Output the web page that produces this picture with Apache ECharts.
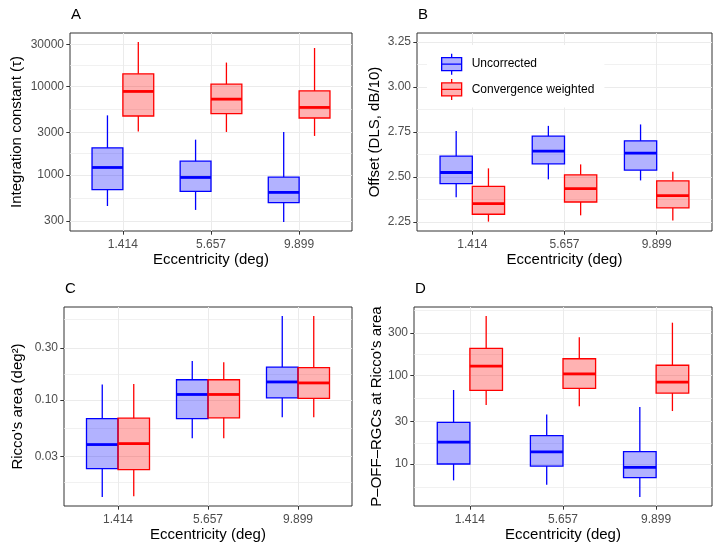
<!DOCTYPE html>
<html>
<head>
<meta charset="utf-8">
<script src="https://cdn.jsdelivr.net/npm/echarts@6/dist/echarts.min.js"></script>
<style>
html,body{margin:0;padding:0;background:#fff;}
#chart{width:720px;height:550px;}
</style>
</head>
<body>
<div id="chart"></div>
<script>
// ---------- data ----------
const categories = ['1.414', '5.657', '9.899'];
const seriesNames = ['Uncorrected', 'Convergence weighted'];

// each box: [lower whisker, Q1, median, Q3, upper whisker], one per category
const integUncorrected = [[443, 678, 1210, 2018, 4710], [400, 649, 933, 1426, 2500], [292, 483, 632, 941, 3055]];
const integWeighted = [[3100, 4630, 8790, 13900, 31900], [3055, 4920, 7190, 10620, 18660], [2754, 4396, 5790, 8930, 27300]];
const integTicks = ['300', '1000', '3000', '10000', '30000'];

const offsetUncorrected = [[2.387, 2.463, 2.525, 2.616, 2.755], [2.487, 2.573, 2.644, 2.727, 2.784], [2.481, 2.538, 2.633, 2.701, 2.792]];
const offsetWeighted = [[2.252, 2.293, 2.352, 2.448, 2.548], [2.287, 2.361, 2.435, 2.512, 2.570], [2.259, 2.328, 2.396, 2.479, 2.529]];
const offsetTicks = ['2.25', '2.50', '2.75', '3.00', '3.25'];
const offsetLimits = [2.25, 3.25];

const riccoUncorrected = [[0.0128, 0.0233, 0.0388, 0.0673, 0.138], [0.0444, 0.0673, 0.112, 0.153, 0.227], [0.0692, 0.104, 0.146, 0.200, 0.589]];
const riccoWeighted = [[0.0130, 0.0228, 0.0396, 0.0678, 0.140], [0.0444, 0.0683, 0.112, 0.153, 0.221], [0.0692, 0.103, 0.143, 0.198, 0.589]];
const riccoTicks = ['0.03', '0.10', '0.30'];

const rgcUncorrected = [[6.54, 10.0, 17.7, 29.5, 68.4], [5.85, 9.49, 13.7, 20.9, 36.3], [4.25, 7.01, 9.17, 13.8, 44.0]];
const rgcWeighted = [[46.3, 67.7, 127, 202, 467], [44.7, 71.3, 104, 154, 270], [39.6, 63.2, 84.1, 130, 393]];
const rgcTicks = ['10', '30', '100', '300'];

// ---------- layout / style ----------
const BLUE = '#0000FF', BLUE_FILL = 'rgba(0,0,255,0.3)';
const RED = '#FF0000', RED_FILL = 'rgba(255,0,0,0.3)';
const BOX_W = 0.35, DODGE = 0.175;
const FONT = "'Liberation Sans', Arial, Helvetica, sans-serif";

const panels = [
  { tag: 'A', log: true, unc: integUncorrected, wtd: integWeighted, ticks: integTicks,
    yName: 'Integration constant (τ)', grid: { left: 70, top: 33, width: 282, height: 198 }, nameGap: 46 },
  { tag: 'B', log: false, unc: offsetUncorrected, wtd: offsetWeighted, ticks: offsetTicks, limits: offsetLimits,
    yName: 'Offset (DLS, dB/10)', grid: { left: 417, top: 33, width: 295, height: 198 }, nameGap: 35 },
  { tag: 'C', log: true, unc: riccoUncorrected, wtd: riccoWeighted, ticks: riccoTicks,
    yName: "Ricco's area (deg²)", grid: { left: 64, top: 307, width: 288, height: 199 }, nameGap: 39 },
  { tag: 'D', log: true, unc: rgcUncorrected, wtd: rgcWeighted, ticks: rgcTicks,
    yName: 'P–OFF–RGCs at Ricco\'s area', grid: { left: 414, top: 307, width: 298, height: 199 }, nameGap: 30 }
];

function tf(p, v) { return p.log ? Math.log10(v) : v; }

function renderBox(offset, stroke, fill) {
  return function (params, api) {
    const x = api.value(0) + offset;
    const pMin = api.coord([x, api.value(1)]);
    const pQ1 = api.coord([x, api.value(2)]);
    const pMed = api.coord([x, api.value(3)]);
    const pQ3 = api.coord([x, api.value(4)]);
    const pMax = api.coord([x, api.value(5)]);
    const hw = api.size([BOX_W, 0])[0] / 2;
    const cx = pMed[0];
    return {
      type: 'group',
      children: [
        { type: 'line', shape: { x1: cx, y1: pMax[1], x2: cx, y2: pQ3[1] }, style: { stroke: stroke, lineWidth: 1.3 } },
        { type: 'line', shape: { x1: cx, y1: pQ1[1], x2: cx, y2: pMin[1] }, style: { stroke: stroke, lineWidth: 1.3 } },
        { type: 'rect', shape: { x: cx - hw, y: pQ3[1], width: 2 * hw, height: pQ1[1] - pQ3[1] },
          style: { fill: fill, stroke: stroke, lineWidth: 1.3 } },
        { type: 'line', shape: { x1: cx - hw, y1: pMed[1], x2: cx + hw, y2: pMed[1] }, style: { stroke: stroke, lineWidth: 2.8 } }
      ]
    };
  };
}

const grids = [], xAxes = [], yAxes = [], series = [], titles = [];

panels.forEach(function (p, i) {
  grids.push(Object.assign({ show: true, borderColor: '#333333', borderWidth: 1, backgroundColor: '#fff', containLabel: false }, p.grid));
  titles.push({ text: p.tag, left: p.grid.left + 1, top: p.grid.top - 26, padding: 0,
    textStyle: { fontSize: 15, fontWeight: 'normal', color: '#000', fontFamily: FONT } });

  // y range
  let lo, hi;
  if (p.limits) { lo = p.limits[0]; hi = p.limits[1]; }
  else {
    const all = [];
    p.unc.concat(p.wtd).forEach(function (b) { b.forEach(function (v) { all.push(tf(p, v)); }); });
    lo = Math.min.apply(null, all); hi = Math.max.apply(null, all);
  }
  const pad = 0.05 * (hi - lo);
  const yMin = lo - pad, yMax = hi + pad;

  const majors = p.ticks.map(function (t) { return tf(p, Number(t)); });
  const ext = majors.slice();
  const d0 = majors[1] - majors[0], dn = majors[majors.length - 1] - majors[majors.length - 2];
  if (p.log) {
    ext.unshift(majors[0] - (1 - d0));
    ext.push(majors[majors.length - 1] + (1 - dn));
  } else {
    ext.unshift(majors[0] - d0);
    ext.push(majors[majors.length - 1] + dn);
  }
  const minors = [];
  for (let k = 0; k < ext.length - 1; k++) {
    const m = (ext[k] + ext[k + 1]) / 2;
    if (m > yMin && m < yMax) minors.push(m);
  }

  xAxes.push({
    gridIndex: i, type: 'value', min: 0.4, max: 3.6,
    axisLine: { show: false },
    axisTick: { show: true, length: 3.7, customValues: [1, 2, 3], lineStyle: { color: '#333333', width: 1 } },
    axisLabel: { customValues: [1, 2, 3], color: '#4D4D4D', fontSize: 12, margin: 8, fontFamily: FONT,
      formatter: function (v) { return categories[Math.round(v) - 1]; } },
    splitLine: { show: true, lineStyle: { color: '#EBEBEB', width: 1 } },
    name: 'Eccentricity (deg)', nameLocation: 'middle', nameGap: 20,
    nameTextStyle: { fontSize: 15, color: '#000', fontFamily: FONT }
  });

  yAxes.push({
    gridIndex: i, type: 'value', min: yMin, max: yMax, position: 'left',
    axisLine: { show: false },
    axisTick: { show: true, length: 3.7, customValues: majors, lineStyle: { color: '#333333', width: 1 } },
    axisLabel: { customValues: majors, color: '#4D4D4D', fontSize: 12, margin: 6, fontFamily: FONT,
      formatter: function (v) {
        let best = 0;
        majors.forEach(function (m, k) { if (Math.abs(m - v) < Math.abs(majors[best] - v)) best = k; });
        return p.ticks[best];
      } },
    splitLine: { show: true, lineStyle: { color: '#EBEBEB', width: 1 } },
    name: p.yName, nameLocation: 'middle', nameGap: p.nameGap,
    nameTextStyle: { fontSize: 15, color: '#000', fontFamily: FONT }
  });
  yAxes.push({
    gridIndex: i, type: 'value', min: yMin, max: yMax, position: 'left',
    axisLine: { show: false },
    axisTick: { show: false, customValues: minors },
    axisLabel: { show: false, customValues: minors },
    splitLine: { show: true, lineStyle: { color: '#EBEBEB', width: 0.7 } }
  });

  const groups = [[p.unc, -DODGE, BLUE, BLUE_FILL, seriesNames[0]], [p.wtd, DODGE, RED, RED_FILL, seriesNames[1]]];
  groups.forEach(function (g) {
    series.push({
      type: 'custom', name: g[4], xAxisIndex: i, yAxisIndex: 2 * i,
      renderItem: renderBox(g[1], g[2], g[3]),
      itemStyle: { color: g[3], borderColor: g[2] },
      encode: { x: 0, y: [1, 2, 3, 4, 5] },
      data: g[0].map(function (b, ci) { return [ci + 1].concat(b.map(function (v) { return tf(p, v); })); }),
      z: 5
    });
  });
});

const iconPath = 'path://M10,0L10,4M0,4L20,4L20,17L0,17ZM0,10.5L20,10.5M10,17L10,21';

const option = {
  animation: false,
  backgroundColor: '#fff',
  textStyle: { fontFamily: FONT },
  title: titles,
  grid: grids,
  xAxis: xAxes,
  yAxis: yAxes,
  legend: {
    orient: 'vertical', left: 427, top: 45, padding: [8, 10, 7, 14],
    backgroundColor: '#fff', itemWidth: 20, itemHeight: 21, itemGap: 3,
    selectedMode: false,
    textStyle: { fontSize: 12, color: '#000', fontFamily: FONT, padding: [0, 0, 0, 5] },
    data: [
      { name: seriesNames[0], icon: iconPath, itemStyle: { color: BLUE_FILL, borderColor: BLUE, borderWidth: 1.3 } },
      { name: seriesNames[1], icon: iconPath, itemStyle: { color: RED_FILL, borderColor: RED, borderWidth: 1.3 } }
    ]
  },
  series: series
};

const chart = echarts.init(document.getElementById('chart'), null, { renderer: 'canvas' });
chart.setOption(option);
</script>
</body>
</html>
